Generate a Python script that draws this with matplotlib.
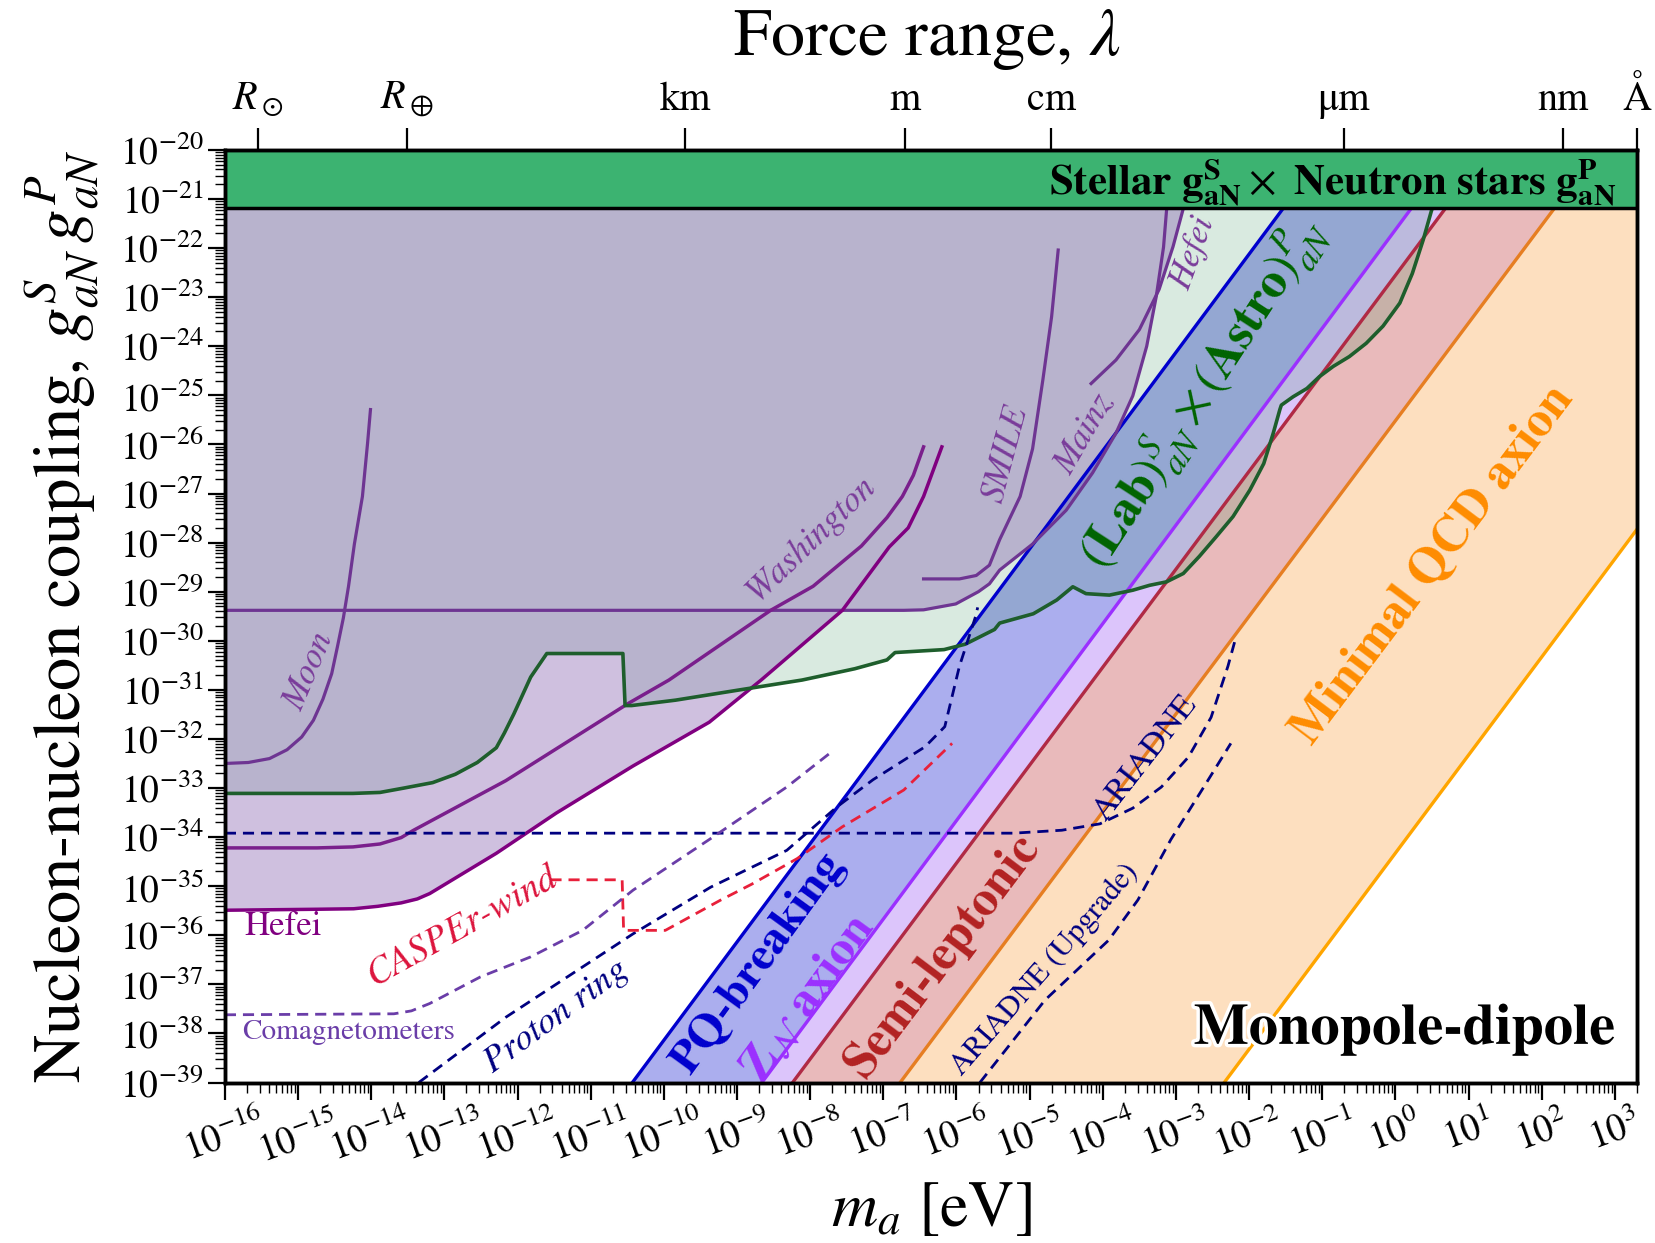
import numpy as np
import matplotlib
matplotlib.use("Agg")
import matplotlib.pyplot as plt
import matplotlib.patheffects as pe
from matplotlib.ticker import LogLocator, NullLocator

plt.rcParams["font.family"] = "STIXGeneral"
plt.rcParams["mathtext.fontset"] = "stix"

# all curves as log10(m_a/eV), log10(g_S*g_P)
moon_m = [-16.00, -15.68, -15.39, -15.15, -14.95, -14.79, -14.66, -14.54, -14.46, -14.38,
          -14.31, -14.23, -14.12, -14.05, -14.01]
moon_g = [-32.50, -32.48, -32.40, -32.22, -31.96, -31.62, -31.19, -30.67, -30.11, -29.53,
          -28.89, -28.03, -27.06, -25.98, -25.29]

wash1_m = [-16.00, -14.74, -14.25, -13.88, -13.59, -13.42, -12.16, -10.49, -9.93, -8.54,
           -7.96, -7.30, -6.95, -6.74, -6.59, -6.45]
wash1_g = [-34.22, -34.22, -34.20, -34.14, -34.01, -33.86, -32.85, -31.28, -30.80, -29.38,
           -28.89, -28.07, -27.49, -27.06, -26.63, -26.05]

hefei_m = [-16.00, -14.74, -14.24, -13.91, -13.59, -13.37, -13.20, -12.29, -11.47, -10.42,
           -9.38, -8.67, -7.56, -6.92, -6.66, -6.45, -6.20]
hefei_g = [-35.49, -35.47, -35.46, -35.41, -35.34, -35.26, -35.15, -34.33, -33.51, -32.55,
           -31.66, -30.80, -29.38, -28.09, -27.70, -27.06, -26.05]

mainz_m = [-16.00, -6.72, -6.45, -6.01, -5.70, -5.55, -5.41, -4.96, -4.50, -4.14, -3.82,
           -3.59, -3.40, -3.27, -3.17, -3.13, -3.11]
mainz_g = [-29.38, -29.38, -29.37, -29.25, -29.00, -28.84, -28.56, -28.03, -27.34, -26.58,
           -25.77, -25.01, -24.00, -22.99, -21.98, -21.25, -21.03]

smile_m = [-6.45, -5.96, -5.73, -5.55, -5.41, -5.13, -4.96, -4.82, -4.70, -4.61]
smile_g = [-28.74, -28.74, -28.67, -28.46, -27.94, -27.06, -26.09, -24.69, -23.40, -22.04]

hefei2_m = [-4.16, -3.82, -3.50, -3.23, -3.04, -2.91, -2.87]
hefei2_g = [-24.76, -24.28, -23.66, -22.84, -21.97, -21.25, -21.03]

astro_m = [-16.00, -14.25, -13.88, -13.55, -13.16, -12.85, -12.55, -12.29, -12.18, -12.05,
           -11.82, -11.60, -10.56, -10.53, -10.44, -9.84, -8.96, -8.11, -7.39, -6.95, -6.84,
           -6.17, -5.88, -5.48, -5.41, -4.95, -4.63, -4.41, -4.23, -3.91, -3.59, -3.36, -3.13,
           -2.90, -2.68, -2.45, -2.22, -1.99, -1.80, -1.67, -1.58, -1.56, -1.40, -1.21, -1.04,
           -0.85, -0.63, -0.40, -0.17, 0.06, 0.23, 0.38, 0.49, 0.54]
astro_g = [-33.11, -33.11, -33.09, -33.00, -32.89, -32.72, -32.48, -32.18, -31.88, -31.49,
           -30.74, -30.26, -30.26, -31.32, -31.32, -31.21, -31.00, -30.80, -30.57, -30.39, -30.24,
           -30.18, -30.07, -29.77, -29.64, -29.45, -29.17, -28.90, -29.04, -29.07, -28.97, -28.87, -28.80,
           -28.63, -28.28, -27.88, -27.47, -26.93, -26.39, -25.77, -25.29, -25.20, -25.03, -24.86, -24.62,
           -24.41, -24.21, -23.94, -23.59, -23.12, -22.52, -21.83, -21.25, -21.03]

ariadne_m = [-16.00, -5.22, -4.56, -4.04, -3.59, -3.20, -2.83, -2.52, -2.29, -2.19]
ariadne_g = [-33.92, -33.92, -33.86, -33.73, -33.41, -32.98, -32.37, -31.56, -30.52, -29.98]

upgrade_m = [-5.68, -4.79, -3.92, -3.52, -3.07, -2.62, -2.25]
upgrade_g = [-39.00, -37.32, -36.10, -35.28, -34.05, -32.98, -32.09]

proton_m = [-13.35, -12.16, -10.42, -9.36, -8.32, -7.63, -7.14, -6.43, -6.16, -5.96, -5.74, -5.71]
proton_g = [-39.00, -37.67, -35.97, -35.02, -34.27, -33.38, -32.83, -32.16, -31.75, -30.52, -29.51, -29.32]

casper_m = [-11.55, -10.57, -10.55, -9.98, -9.22, -8.80, -8.18, -7.56, -6.72, -6.06]
casper_g = [-34.87, -34.87, -35.90, -35.90, -35.28, -34.96, -34.44, -33.79, -33.04, -32.09]

comag_m = [-16.00, -13.69, -13.45, -13.20, -12.51, -11.82, -11.11, -10.42, -9.38, -8.32, -7.73]
comag_g = [-37.62, -37.60, -37.54, -37.39, -36.85, -36.44, -35.90, -35.08, -34.05, -32.98, -32.29]

# straight band edges, log10(m_a) where they cross g = 1e-39 and g = 1e-20
edge_g = np.array([-39.0, -20.0])
pq_edge = np.array([-10.43, -0.94])
zn_edge = np.array([-8.66, 0.81])
semilep_edge = np.array([-8.24, 1.28])
qcd_hi_edge = np.array([-6.77, 2.77])
qcd_lo_edge = np.array([-2.34, 7.17])

stellar_g = -21.18

# force range tick marks: lambda = hbar c / m_a
hbarc = 1.97327e-7  # eV m
lam_vals = [6.957e8, 6.371e6, 1e3, 1.0, 1e-2, 1e-6, 1e-9, 1e-10]
lam_labels = [r"$R_\odot$", r"$R_\oplus$", "km", "m", "cm", "μm", "nm", "Å"]

fig = plt.figure(figsize=(16.56, 12.43), dpi=100)
ax = fig.add_axes([0.1358, 0.1291, 0.8527, 0.7503])
ax.set_xscale("log")
ax.set_yscale("log")
ax.set_xlim(1e-16, 2e3)
ax.set_ylim(1e-39, 1e-20)


def band(a, b, color):
    ax.fill(10 ** np.r_[a, b[::-1]], 10 ** np.r_[edge_g, edge_g[::-1]],
            color=color, lw=0, zorder=1)


band(pq_edge, zn_edge, "#abaeee")
band(zn_edge, semilep_edge, "#dcc5fb")
band(semilep_edge, qcd_hi_edge, "#e9babb")
band(qcd_hi_edge, qcd_lo_edge, "#fddfbf")

# lab x astro region
am = 10 ** np.array(astro_m)
ax.fill_between(am, 10 ** np.array(astro_g), 1e-20, color="#2e8b57", alpha=0.18, lw=0, zorder=3)

# lab x lab region: lower envelope of the lab curves
grid = np.linspace(-16, -2.87, 3000)
lab_curves = [(moon_m, moon_g), (wash1_m, wash1_g), (hefei_m, hefei_g),
              (mainz_m, mainz_g), (smile_m, smile_g), (hefei2_m, hefei2_g)]
env = np.full_like(grid, np.nan)
for cm, cg in lab_curves:
    v = np.interp(grid, cm, cg, left=np.nan, right=np.nan)
    env = np.fmin(env, v)
ax.fill_between(10 ** grid, 10 ** env, 1e-20, color="#8762b1", alpha=0.4, lw=0, zorder=4)

# band edges
for e, c in [(pq_edge, "#0000cd"), (zn_edge, "#9b30ff"), (semilep_edge, "#b02a45"),
             (qcd_hi_edge, "#e67e22"), (qcd_lo_edge, "#ffa500")]:
    ax.plot(10 ** e, 10 ** edge_g, color=c, lw=2.4, zorder=5)

lab_col = "#6e3592"
for cm, cg in [(moon_m, moon_g), (mainz_m, mainz_g), (smile_m, smile_g), (hefei2_m, hefei2_g)]:
    ax.plot(10 ** np.array(cm), 10 ** np.array(cg), color=lab_col, lw=2.3, zorder=5)
ax.plot(10 ** np.array(wash1_m), 10 ** np.array(wash1_g), color="#7a1f8c", lw=2.5, zorder=5)
ax.plot(10 ** np.array(hefei_m), 10 ** np.array(hefei_g), color="#800080", lw=2.5, zorder=5)
ax.plot(am, 10 ** np.array(astro_g), color="#1e5e2c", lw=2.6, zorder=5)

dash = (0, (4, 2.5))
ax.plot(10 ** np.array(ariadne_m), 10 ** np.array(ariadne_g), color="#000080", lw=2, ls=dash, zorder=5)
ax.plot(10 ** np.array(upgrade_m), 10 ** np.array(upgrade_g), color="#000080", lw=2, ls=dash, zorder=5)
ax.plot(10 ** np.array(proton_m), 10 ** np.array(proton_g), color="#000080", lw=2, ls=dash, zorder=5)
ax.plot(10 ** np.array(casper_m), 10 ** np.array(casper_g), color="#e8203a", lw=2, ls=dash, zorder=5)
ax.plot(10 ** np.array(comag_m), 10 ** np.array(comag_g), color="#6a3da8", lw=2, ls=dash, zorder=5)

# stellar x neutron star band on top
ax.fill_between([1e-17, 1e4], 10 ** stellar_g, 1e-20, color="#3cb371", lw=0, zorder=6)
ax.axhline(10 ** stellar_g, color="k", lw=2.5, zorder=6)


# labels
def lab(x, y, s, rot, size, color, **kw):
    ax.text(10 ** x, 10 ** y, s, rotation=rot, fontsize=size, color=color,
            ha="center", va="center", rotation_mode="anchor", zorder=7, **kw)


lab(-14.85, -30.61, "Moon", 67, 25, "#7a3c9a", style="italic")
lab(-7.99, -27.92, "Washington", 44, 25, "#7a3c9a", style="italic")
lab(-5.34, -26.20, "SMILE", 75, 25, "#7a3c9a", style="italic")
lab(-4.25, -25.77, "Mainz", 60, 25, "#7a3c9a", style="italic")
lab(-2.77, -22.11, "Hefei", 70, 25, "#7a3c9a", style="italic")
lab(-15.21, -35.84, "Hefei", 0, 25, "#800080")
lab(-14.31, -37.97, "Comagnetometers", 0, 21, "#6a3da8")
lab(-12.75, -35.84, "CASPEr-wind", 29, 27, "#dc143c", style="italic")
lab(-11.47, -37.65, "Proton ring", 36, 26, "#000080", style="italic")
lab(-3.42, -32.40, "ARIADNE", 52, 24, "#000080")
lab(-4.79, -36.70, "ARIADNE (Upgrade)", 49, 22, "#000080")
lab(-8.71, -36.57, "PQ-breaking", 54, 34, "#0000cd", weight="bold")
lab(-8.03, -37.28, r"$\mathbf{Z}_{\mathcal{N}}$ axion", 54, 35, "#9b30ff", weight="bold")
lab(-6.19, -36.42, "Semi-leptonic", 53, 36, "#b22222", weight="bold")
lab(0.51, -28.46, "Minimal QCD axion", 53, 36, "#ff8c00", weight="bold")
lab(-2.62, -24.95, r"$(\mathbf{Lab})^{S}_{aN}\times(\mathbf{Astro})^{P}_{aN}$", 57, 36, "#006400")

ax.text(0.985, 0.057, "Monopole-dipole", transform=ax.transAxes, ha="right", va="center",
        fontsize=42, weight="bold", zorder=8,
        path_effects=[pe.withStroke(linewidth=5, foreground="w")])
ax.text(0.985, 0.966, r"Stellar $\mathbf{g}^{\mathbf{S}}_{\mathbf{aN}}\times$ Neutron stars $\mathbf{g}^{\mathbf{P}}_{\mathbf{aN}}$",
        transform=ax.transAxes, ha="right", va="center", fontsize=31, weight="bold", zorder=8)

# axes styling
for s in ax.spines.values():
    s.set_linewidth(2.5)
    s.set_zorder(9)
ax.xaxis.set_major_locator(LogLocator(base=10, numticks=40))
ax.yaxis.set_major_locator(LogLocator(base=10, numticks=40))
ax.xaxis.set_minor_locator(LogLocator(base=10, subs=np.arange(2, 10), numticks=400))
ax.yaxis.set_minor_locator(LogLocator(base=10, subs=np.arange(2, 10), numticks=400))
ax.tick_params(which="major", direction="out", length=12, width=1.6, labelsize=27)
ax.tick_params(which="minor", direction="out", length=7, width=1.0)
ax.tick_params(axis="x", which="major", labelrotation=20, pad=4)

ax.set_xlabel(r"$m_a$ [eV]", fontsize=46)
ax.xaxis.set_label_coords(0.5, -0.137)
ax.xaxis.label.set_va("center")
ax.set_ylabel(r"Nucleon-nucleon coupling, $g^S_{aN}\,g^P_{aN}$", fontsize=48)
ax.yaxis.set_label_coords(-0.115, 0.5)
ax.yaxis.label.set_va("center")

ax2 = ax.twiny()
ax2.set_xscale("log")
ax2.set_xlim(ax.get_xlim())
ax2.set_xticks([hbarc / l for l in lam_vals])
ax2.set_xticklabels(lam_labels)
ax2.xaxis.set_minor_locator(NullLocator())
ax2.tick_params(direction="out", length=16, width=1.6, labelsize=29, pad=6)
for s in ax2.spines.values():
    s.set_linewidth(2.5)

fig.text(0.56, 0.968, r"Force range, $\lambda$", ha="center", va="center", fontsize=49)

fig.savefig("out.png", dpi=100)
